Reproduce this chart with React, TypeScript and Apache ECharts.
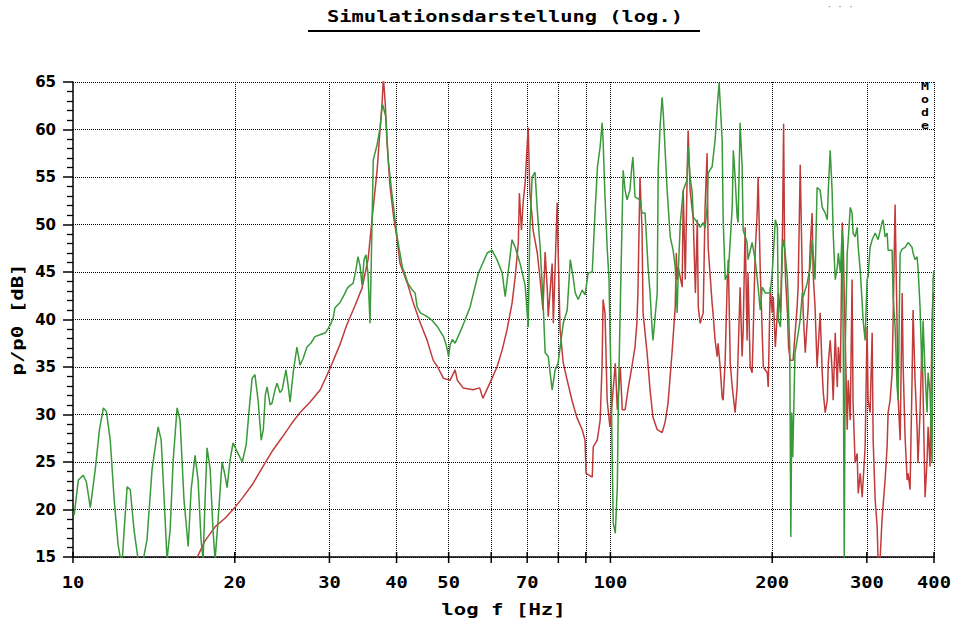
import React, { useEffect, useRef } from "react";
import * as echarts from "echarts";

// Frequency axis (Hz) and level axis (dB)
const xMin = 10;
const xMax = 400;
const yMin = 15;
const yMax = 65;
const yStep = 5;

// Dotted frequency grid lines and tick marks
const xGridFreqs = [20, 30, 40, 50, 60, 70, 80, 90, 100, 200, 300, 400];
const xTickFreqs = [10, 20, 30, 40, 50, 60, 70, 80, 90, 100, 200, 300, 400];
const xLabelFreqs = [10, 20, 30, 40, 50, 70, 100, 200, 300, 400];

// Green trace: frequency [Hz] / level [dB]
const greenFreq = [
  10.05, 10.23, 10.45, 10.59, 10.77, 11.0, 11.2, 11.39, 11.54, 11.73, 11.93, 12.13, 12.24, 12.35, 12.45, 12.61,
  12.78, 12.99, 13.22, 13.51, 13.73, 14.03, 14.4, 14.59, 14.78, 14.96, 15.16, 15.36, 15.62, 15.82, 16.09, 16.38,
  16.59, 16.87, 17.09, 17.31, 17.46, 17.61, 17.76, 18.0, 18.22, 18.38, 18.62, 18.94, 19.18, 19.35, 19.6, 19.85,
  20.2, 20.65, 21.0, 21.27, 21.54, 21.8, 22.1, 22.4, 22.6, 22.8, 22.97, 23.27, 23.46, 23.76, 23.97, 24.27,
  24.5, 24.9, 25.13, 25.35, 25.7, 26.1, 26.45, 26.8, 27.25, 27.7, 28.2, 28.8, 29.5, 30.1, 30.5, 30.7,
  31.4, 31.95, 32.4, 32.8, 33.2, 33.6, 33.9, 34.2, 34.5, 34.8, 35.1, 35.4, 35.7, 36.0, 36.2, 36.8,
  37.3, 37.6, 37.7, 38.2, 38.6, 39.2, 40.1, 41.0, 41.5, 42.0, 42.8, 43.3, 43.7, 44.3, 45.6, 46.6,
  47.7, 48.9, 49.5, 50.0, 50.3, 50.8, 51.4, 53.0, 54.8, 56.8, 59.0, 60.2, 61.5, 62.9, 63.7, 64.5,
  65.6, 66.5, 67.9, 69.4, 70.3, 70.8, 71.5, 72.4, 73.1, 74.0, 74.9, 75.6, 76.6, 77.9, 78.9, 79.9,
  81.7, 83.1, 84.2, 85.2, 86.0, 87.1, 88.6, 89.7, 90.9, 92.5, 93.6, 94.6, 95.7, 96.5, 96.9, 97.7,
  98.6, 99.4, 99.8, 100.3, 100.7, 101.2, 102.1, 103.0, 103.4, 104.3, 105.2, 105.6, 106.5, 107.4, 108.7, 109.6,
  110.1, 111.1, 113.5, 114.5, 116.0, 117.5, 118.5, 119.5, 120.0, 122.2, 122.7, 123.7, 124.8, 125.4, 127.5, 129.2,
  130.8, 132.0, 133.1, 133.7, 134.9, 136.6, 138.9, 139.5, 140.7, 142.0, 142.6, 145.1, 146.9, 148.8, 150.0, 151.3,
  152.0, 154.6, 156.6, 158.0, 159.3, 161.4, 162.1, 163.5, 165.7, 168.5, 169.3, 170.6, 172.1, 172.8, 174.3, 175.8,
  176.6, 179.6, 180.3, 183.5, 185.9, 188.3, 190.0, 191.6, 194.2, 198.3, 200.0, 202.7, 204.5, 205.4, 207.2, 209.0,
  210.0, 211.2, 213.5, 215.6, 216.6, 217.5, 218.4, 220.5, 222.5, 225.5, 227.5, 228.4, 232.3, 235.3, 237.3, 240.3,
  242.4, 245.6, 247.8, 251.0, 253.2, 254.3, 256.4, 258.5, 259.7, 262.0, 264.3, 265.5, 267.8, 270.0, 271.2, 272.3,
  273.5, 275.8, 277.0, 279.4, 281.6, 282.8, 285.3, 287.8, 289.1, 291.6, 295.3, 297.8, 300.3, 301.6, 304.2, 306.9,
  310.9, 314.8, 320.1, 321.5, 324.4, 327.2, 328.6, 334.3, 335.7, 338.6, 341.5, 343.0, 346.0, 349.0, 353.4, 358.0,
  364.1, 365.7, 368.8, 372.0, 373.5, 376.8, 380.0, 381.7, 385.0, 388.3, 390.0, 393.3, 396.7, 398.3, 400.0,
];
const greenDb = [
  19.4, 23.1, 23.6, 22.9, 20.2, 24.2, 28.4, 30.7, 30.3, 27.3, 21.0, 16.3, 15.0, 14.7, 17.8, 22.4,
  22.1, 17.8, 14.7, 14.7, 16.8, 24.2, 28.7, 27.3, 21.0, 14.7, 17.8, 25.2, 30.7, 29.4, 21.0, 16.1,
  22.1, 25.7, 23.1, 16.8, 14.7, 21.0, 26.5, 24.2, 17.8, 14.7, 18.9, 25.0, 23.6, 22.3, 25.2, 27.0,
  26.1, 25.0, 26.8, 30.5, 33.8, 34.2, 31.5, 27.3, 28.4, 32.1, 32.9, 31.0, 31.2, 32.6, 33.3, 32.3,
  32.6, 34.7, 33.1, 31.3, 34.5, 37.1, 35.2, 35.9, 37.1, 37.5, 38.2, 38.4, 38.6, 39.4, 40.2, 41.2,
  41.8, 42.6, 43.3, 43.6, 43.8, 45.2, 46.6, 45.7, 43.6, 46.3, 46.8, 44.7, 39.6, 49.7, 56.8, 58.4,
  60.3, 62.4, 62.6, 61.3, 56.8, 53.3, 48.7, 45.5, 44.7, 43.8, 43.1, 42.8, 41.3, 40.7, 40.3, 39.9,
  39.2, 38.2, 37.3, 36.1, 37.3, 37.9, 37.5, 39.2, 41.3, 44.9, 47.0, 47.3, 46.3, 44.9, 42.4, 44.9,
  48.4, 47.6, 45.9, 43.6, 39.2, 49.4, 55.0, 55.5, 51.5, 47.6, 42.1, 36.5, 36.1, 32.6, 34.7, 35.4,
  39.6, 41.0, 46.3, 44.5, 42.8, 42.1, 43.1, 42.6, 44.9, 45.0, 51.2, 56.1, 58.2, 60.7, 58.9, 52.9,
  47.6, 44.2, 38.6, 33.6, 26.6, 18.6, 17.5, 22.4, 30.8, 41.3, 51.2, 55.7, 53.6, 52.6, 53.6, 56.1,
  57.1, 52.9, 52.6, 51.2, 51.2, 45.5, 42.8, 39.2, 37.8, 42.8, 55.7, 60.3, 63.4, 61.7, 53.6, 48.7,
  47.3, 45.5, 40.7, 44.9, 50.2, 53.6, 54.7, 58.2, 55.0, 53.3, 50.8, 50.2, 49.7, 50.2, 49.6, 51.8,
  55.4, 56.1, 58.9, 62.4, 64.9, 58.9, 50.5, 44.2, 44.9, 51.8, 57.8, 55.0, 50.8, 50.2, 60.7, 56.1,
  49.4, 48.1, 46.3, 48.1, 46.3, 43.4, 41.0, 43.4, 42.8, 42.8, 44.9, 50.5, 49.7, 39.9, 39.2, 47.6,
  48.4, 47.3, 44.2, 37.1, 17.1, 30.2, 25.5, 36.5, 37.8, 40.0, 42.8, 42.4, 43.8, 45.5, 48.4, 44.2,
  53.9, 53.6, 51.8, 51.2, 50.5, 53.6, 57.8, 53.6, 49.1, 44.2, 45.5, 47.0, 44.9, 49.4, 36.5, 14.7,
  37.1, 47.0, 48.4, 51.8, 51.2, 49.1, 48.7, 49.7, 47.6, 45.2, 39.9, 37.8, 44.2, 44.5, 47.6, 48.4,
  49.1, 48.4, 50.2, 50.5, 48.7, 49.1, 47.3, 47.3, 42.4, 39.2, 32.9, 31.5, 47.0, 47.4, 47.6, 48.1,
  47.6, 47.0, 46.3, 46.6, 45.5, 41.3, 34.4, 39.9, 34.4, 30.2, 34.4, 32.3, 24.9, 44.2, 45.2,
];

// Red trace: frequency [Hz] / level [dB]
const redFreq = [
  17.0, 17.6, 18.4, 19.2, 20.0, 20.65, 21.55, 22.5, 23.45, 24.5, 25.55, 26.45, 27.6, 28.85, 30.1, 31.35,
  32.3, 33.5, 34.5, 35.0, 35.4, 35.7, 36.2, 36.8, 37.3, 37.6, 37.8, 38.1, 38.4, 38.9, 39.5, 40.1,
  40.6, 41.9, 43.0, 44.3, 45.6, 46.8, 47.7, 48.9, 50.3, 51.4, 51.9, 53.2, 55.5, 57.1, 57.9, 59.1,
  60.2, 61.5, 62.9, 64.2, 65.6, 66.5, 67.4, 67.7, 68.3, 68.8, 69.4, 70.0, 70.3, 70.8, 71.5, 71.8,
  73.1, 74.0, 74.9, 75.6, 76.3, 76.6, 77.9, 78.3, 79.6, 79.9, 80.6, 81.7, 83.1, 84.8, 86.6, 88.6,
  89.7, 90.1, 92.5, 92.9, 94.5, 95.7, 96.5, 96.9, 97.7, 98.6, 99.8, 100.7, 102.1, 103.0, 104.3, 105.2,
  106.5, 107.8, 109.6, 111.1, 112.0, 112.5, 113.5, 114.5, 115.0, 117.0, 118.5, 120.0, 122.2, 124.8, 126.4, 128.0,
  130.2, 132.0, 132.6, 133.1, 133.7, 136.0, 136.6, 137.8, 138.9, 139.5, 140.7, 142.6, 143.9, 145.1, 145.7, 146.9,
  148.8, 150.0, 151.3, 152.0, 154.6, 155.2, 156.6, 158.0, 158.6, 160.0, 161.4, 162.1, 163.5, 164.9, 165.7, 167.1,
  168.5, 170.6, 172.1, 174.3, 175.8, 176.6, 178.1, 179.6, 180.3, 182.0, 183.5, 184.3, 185.9, 187.5, 188.3, 190.0,
  192.5, 195.8, 196.6, 198.3, 200.0, 200.9, 202.7, 205.4, 207.2, 209.0, 210.0, 210.9, 211.8, 213.5, 214.5, 216.0,
  218.7, 222.5, 223.5, 225.5, 227.5, 228.4, 230.4, 233.3, 235.3, 237.3, 238.3, 240.3, 242.4, 245.6, 247.8, 248.9,
  251.0, 253.2, 254.3, 256.4, 258.5, 259.7, 262.0, 264.3, 265.5, 267.8, 270.0, 271.2, 273.5, 275.8, 277.0, 279.4,
  281.6, 282.8, 285.3, 287.8, 289.1, 291.6, 294.1, 295.3, 297.8, 300.3, 301.6, 304.2, 306.9, 308.2, 310.9, 313.5,
  314.8, 317.5, 320.1, 321.5, 324.4, 327.2, 328.6, 331.4, 334.3, 335.7, 338.6, 341.5, 343.0, 346.0, 349.0, 350.5,
  353.4, 356.5, 358.0, 361.0, 364.1, 365.7, 368.8, 372.0, 373.5, 376.8, 380.0, 381.7, 385.0, 388.3, 390.0, 393.3,
  396.7, 398.3, 400.0,
];
const redDb = [
  14.9, 16.7, 18.2, 19.1, 20.2, 21.2, 22.6, 24.4, 26.1, 27.6, 29.1, 30.2, 31.3, 32.6, 34.9, 37.3,
  39.4, 41.5, 43.3, 45.0, 46.3, 48.4, 51.8, 55.7, 60.3, 62.8, 65.5, 62.8, 58.6, 54.0, 50.8, 48.4,
  45.9, 43.8, 41.7, 39.6, 37.8, 35.7, 35.0, 33.8, 33.6, 34.7, 33.6, 32.8, 32.6, 32.8, 31.7, 32.8,
  33.8, 35.0, 36.8, 38.9, 41.7, 44.5, 48.1, 53.3, 49.4, 52.3, 54.4, 58.4, 60.2, 53.3, 50.8, 49.4,
  47.0, 44.2, 41.0, 47.1, 43.1, 40.3, 45.9, 39.6, 52.3, 47.6, 38.9, 35.4, 33.6, 31.5, 29.7, 28.4,
  27.3, 23.8, 23.4, 26.6, 27.3, 29.4, 35.4, 42.1, 40.7, 31.5, 28.7, 31.2, 35.4, 30.5, 35.0, 30.5,
  30.5, 32.6, 35.0, 37.1, 39.6, 42.8, 55.0, 49.4, 40.7, 36.5, 32.6, 29.7, 28.4, 28.1, 29.2, 31.2,
  36.5, 41.3, 47.0, 44.2, 45.5, 43.4, 53.6, 44.2, 55.0, 59.9, 53.6, 50.5, 42.8, 50.5, 41.3, 39.6,
  40.7, 51.8, 57.5, 47.6, 41.7, 40.7, 37.8, 36.1, 37.5, 35.0, 31.8, 31.5, 35.7, 43.8, 46.3, 35.4,
  32.9, 30.2, 32.9, 43.4, 36.1, 38.9, 49.7, 37.8, 44.9, 35.0, 34.4, 38.2, 47.0, 51.2, 55.0, 45.2,
  35.0, 34.4, 32.9, 43.4, 40.7, 42.4, 37.1, 42.8, 40.7, 49.1, 60.6, 47.6, 44.2, 40.7, 37.1, 35.7,
  35.7, 41.3, 43.4, 56.3, 44.2, 40.7, 36.5, 41.3, 47.6, 51.2, 44.9, 41.3, 35.0, 40.7, 34.4, 32.3,
  30.2, 31.5, 35.4, 37.8, 34.7, 31.5, 38.6, 32.9, 37.1, 34.4, 50.2, 47.6, 37.8, 28.4, 33.6, 29.4,
  44.2, 31.2, 24.9, 25.9, 21.7, 23.8, 21.3, 23.1, 26.6, 39.2, 31.5, 30.2, 38.6, 27.3, 21.0, 18.2,
  14.7, 14.7, 18.9, 20.3, 23.1, 26.6, 30.2, 31.5, 34.4, 39.9, 52.1, 39.2, 31.8, 27.3, 42.8, 35.0,
  27.6, 23.1, 23.8, 22.1, 33.6, 41.0, 33.6, 28.7, 24.9, 30.2, 37.8, 32.3, 21.3, 25.2, 28.7, 24.5,
  39.9, 42.8, 42.1,
];

const MONO = "'DejaVu Sans Mono', 'Liberation Mono', monospace";
const SANS = "'DejaVu Sans', 'Liberation Sans', sans-serif";
const GREEN = "#3a9a3a";
const RED = "#c23b3b";

// Bold wide monospace text used for titles and labels
function wideText(text: string, x: number, y: number, size: number, stretch: number, extra: any = {}) {
  return {
    type: "text",
    x,
    y,
    scaleX: stretch,
    z: 10,
    style: {
      text,
      font: `bold ${size}px ${MONO}`,
      fill: "#000",
      textAlign: "center",
      textVerticalAlign: "middle",
    },
    ...extra,
  };
}

export default function App() {
  const ref = useRef<HTMLDivElement>(null);

  useEffect(() => {
    if (!ref.current) return;
    const chart = echarts.init(ref.current, null, { renderer: "svg" });

    const option = {
      animation: false,
      backgroundColor: "#ffffff",
      grid: { left: 73, right: 21, top: 82, bottom: 64, containLabel: false },
      xAxis: {
        type: "log",
        logBase: 10,
        min: xMin,
        max: xMax,
        axisLine: { show: true, lineStyle: { color: "#000", width: 1.5 } },
        axisTick: { show: false },
        axisLabel: { show: false },
        splitLine: { show: false },
        minorTick: { show: false },
      },
      yAxis: {
        type: "value",
        min: yMin,
        max: yMax,
        interval: yStep,
        axisLine: { show: true, lineStyle: { color: "#000", width: 1.5 } },
        axisTick: { show: true, length: 10, lineStyle: { color: "#000", width: 1.5 } },
        minorTick: { show: true, splitNumber: 5, length: 6, lineStyle: { color: "#000", width: 1.3 } },
        axisLabel: { fontFamily: SANS, fontWeight: "bold", fontSize: 15, color: "#000", margin: 17 },
        splitLine: { show: true, lineStyle: { color: "#000", type: "dotted", width: 1 } },
      },
      series: [
        {
          name: "green",
          type: "line",
          data: greenFreq.map((f, i) => [f, greenDb[i]]),
          showSymbol: false,
          clip: true,
          lineStyle: { color: GREEN, width: 1.5 },
          itemStyle: { color: GREEN },
          z: 3,
          markLine: {
            silent: true,
            symbol: "none",
            animation: false,
            label: { show: false },
            lineStyle: { color: "#000", type: "dotted", width: 1 },
            data: xGridFreqs.map((f) => ({ xAxis: f })),
            z: 1,
          },
        },
        {
          name: "red",
          type: "line",
          data: redFreq.map((f, i) => [f, redDb[i]]),
          showSymbol: false,
          clip: true,
          lineStyle: { color: RED, width: 1.5 },
          itemStyle: { color: RED },
          z: 2,
        },
      ],
    };
    chart.setOption(option as any);

    // Frequency ticks and labels placed through the axis scale
    const axisY = chart.convertToPixel({ yAxisIndex: 0 }, yMin) as number;
    const midY = chart.convertToPixel({ yAxisIndex: 0 }, (yMin + yMax) / 2) as number;
    const leftX = chart.convertToPixel({ xAxisIndex: 0 }, xMin) as number;
    const rightX = chart.convertToPixel({ xAxisIndex: 0 }, xMax) as number;
    const graphics: any[] = [];
    xTickFreqs.forEach((f) => {
      const px = chart.convertToPixel({ xAxisIndex: 0 }, f) as number;
      graphics.push({
        type: "line",
        shape: { x1: px, y1: axisY - 5, x2: px, y2: axisY + 6 },
        style: { stroke: "#000", lineWidth: 1.5 },
        z: 10,
      });
    });
    xLabelFreqs.forEach((f) => {
      const px = chart.convertToPixel({ xAxisIndex: 0 }, f) as number;
      graphics.push(wideText(String(f), px, axisY + 26, 15, 1.25));
    });

    // Axis names
    graphics.push(wideText("log f [Hz]", (leftX + rightX) / 2, axisY + 53, 15, 1.38));
    graphics.push(wideText("p/p0 [dB]", 18, midY, 15, 1.38, { rotation: Math.PI / 2 }));

    // Title with underline
    graphics.push(wideText("Simulationsdarstellung (log.)", 505, 17, 15, 1.36));
    graphics.push({
      type: "line",
      shape: { x1: 308, y1: 31, x2: 700, y2: 31 },
      style: { stroke: "#000", lineWidth: 2 },
    });

    // Mode tag in the upper right corner, letters stacked
    ["M", "o", "d", "e"].forEach((ch, i) => {
      graphics.push({
        type: "text",
        x: 925,
        y: 81 + i * 13,
        scaleX: 1.2,
        z: 10,
        style: {
          text: ch,
          font: `bold 11px ${MONO}`,
          fill: "#000",
          textAlign: "center",
          textVerticalAlign: "top",
        },
      });
    });
    graphics.push({
      type: "text",
      x: 840,
      y: 2,
      style: { text: "· · ·", font: `9px ${MONO}`, fill: "#888", textAlign: "center", textVerticalAlign: "top" },
    });
    chart.setOption({ graphic: graphics });

    return () => {
      chart.dispose();
    };
  }, []);

  return <div ref={ref} style={{ width: 955, height: 621, position: "absolute", left: 0, top: 0 }} />;
}
